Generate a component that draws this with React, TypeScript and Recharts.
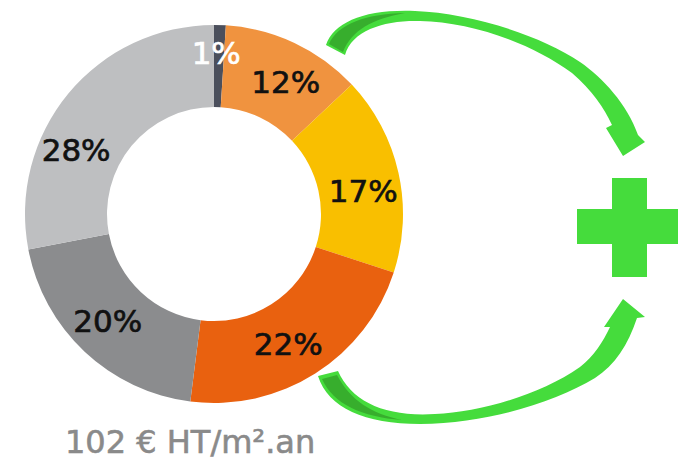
import React from 'react'
import { PieChart, Pie, Cell } from 'recharts'

const segments = ['Part 1', 'Part 2', 'Part 3', 'Part 4', 'Part 5', 'Part 6']
const shares = [1, 12, 17, 22, 20, 28]
const labels = ['1%', '12%', '17%', '22%', '20%', '28%']
const caption = '102 € HT/m².an'

const COLORS = ['#4b4f5c', '#f0933f', '#f9bf00', '#e9610f', '#8b8c8e', '#bebfc1']
const LABEL_COLORS = ['#ffffff', '#111111', '#111111', '#111111', '#111111', '#111111']
// per-slice label tweaks (degrees, radius)
const LABEL_NUDGE = [
  { da: 1, r: 161 },
  { da: -3.4, r: 150 },
  { da: -3.8, r: 151 },
  { da: -2.7, r: 150 },
  { da: -1.5, r: 151 },
  { da: 14.7, r: 152 },
]

const data = segments.map((name, i) => ({ name, value: shares[i], label: labels[i] }))

const RADIAN = Math.PI / 180
const FONT = '"DejaVu Sans", sans-serif'

const renderLabel = (props: any) => {
  const { cx, cy, midAngle, index } = props
  const n = LABEL_NUDGE[index]
  const a = (midAngle + n.da) * RADIAN
  const x = cx + n.r * Math.cos(a)
  const y = cy - n.r * Math.sin(a)
  return (
    <text
      x={x}
      y={y}
      fill={LABEL_COLORS[index]}
      stroke={LABEL_COLORS[index]}
      strokeWidth={0.7}
      textAnchor="middle"
      dominantBaseline="central"
      fontFamily={FONT}
      fontSize={31}
    >
      {data[index].label}
    </text>
  )
}

const GREEN = '#45dc3c'
const DARK_GREEN = '#37ae2d'

const Arrows = () => (
  <svg width={678} height={462} style={{ position: 'absolute', left: 0, top: 0, pointerEvents: 'none' }}>
    {/* upper arrow */}
    <path
      d="M 326,45 C 334,22 365,9 415,11 C 470,13 540,35 580,62 C 603,78 627,104 638,135 L 645,142 L 623,156 L 606,128 L 612,125 C 604,108 592,90 572,73 C 530,42 470,22 420,21 C 385,20 352,30 345,55 Z"
      fill={GREEN}
    />
    <path d="M 329,44 C 338,24 365,14 405,13 C 372,19 352,30 343,52 Z" fill={DARK_GREEN} />
    {/* lower arrow */}
    <path
      d="M 318,376 C 328,408 365,424 420,424 C 490,423 555,402 595,378 C 615,365 628,345 637,318 L 645,317 L 623,299 L 604,327 L 610,327 C 603,342 594,356 580,367 C 540,395 480,412 435,414 C 385,417 352,402 338,371 Z"
      fill={GREEN}
    />
    <path d="M 322,379 C 333,404 362,417 402,420 C 372,414 350,400 337,375 Z" fill={DARK_GREEN} />
    {/* plus */}
    <rect x={612} y={178} width={35} height={99} fill={GREEN} />
    <rect x={577} y={209} width={106} height={35} fill={GREEN} />
    <text x={65} y={453} fill="#8a8a8a" stroke="#8a8a8a" strokeWidth={0.6} fontFamily={FONT} fontSize={32}>
      {caption}
    </text>
  </svg>
)

export default function App() {
  return (
    <div style={{ position: 'relative', width: 678, height: 462, background: '#fff' }}>
      <style>{'body{margin:0}'}</style>
      <PieChart width={678} height={462} margin={{ top: 0, right: 0, bottom: 0, left: 0 }}>
        <Pie
          data={data}
          dataKey="value"
          nameKey="name"
          cx={214}
          cy={214}
          innerRadius={107}
          outerRadius={189}
          startAngle={90}
          endAngle={-270}
          paddingAngle={0}
          stroke="none"
          label={renderLabel}
          labelLine={false}
          isAnimationActive={false}
        >
          {data.map((_, i) => (
            <Cell key={`cell-${i}`} fill={COLORS[i]} />
          ))}
        </Pie>
      </PieChart>
      <Arrows />
    </div>
  )
}
